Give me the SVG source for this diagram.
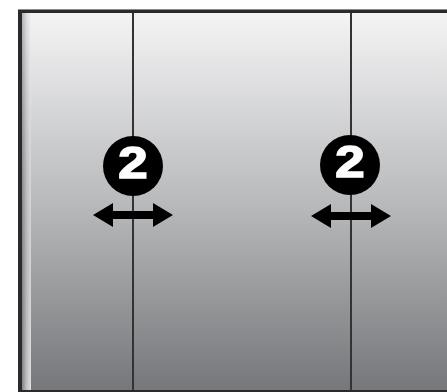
<svg xmlns="http://www.w3.org/2000/svg" width="447" height="392" viewBox="0 0 447 392">
<defs>
<linearGradient id="bg" x1="0" y1="0" x2="0" y2="1">
<stop offset="0" stop-color="#f4f4f5"/>
<stop offset="0.5" stop-color="#b9babc"/>
<stop offset="1" stop-color="#76777a"/>
</linearGradient>
<linearGradient id="strip" x1="0" y1="0" x2="1" y2="0">
<stop offset="0" stop-color="#8a8b8d"/>
<stop offset="0.5" stop-color="#c8c9cb"/>
<stop offset="1" stop-color="#ececed"/>
</linearGradient>
<linearGradient id="stripv" x1="0" y1="0" x2="0" y2="1">
<stop offset="0" stop-color="#ffffff" stop-opacity="0.35"/>
<stop offset="1" stop-color="#000000" stop-opacity="0.05"/>
</linearGradient>
<path id="dbl" d="M-40,0 L-20,-12 L-20,-4 L20,-4 L20,-12 L40,0 L20,12 L20,4 L-20,4 L-20,12 Z" fill="#000"/>
</defs>
<style>
.div{stroke:#333336;stroke-width:2;fill:none}
.num{font-family:"Liberation Sans",Arial,sans-serif;font-weight:bold;font-size:44px;fill:#fff;stroke:#fff;stroke-width:1.6;text-anchor:middle}
</style>
<g id="frame">
<rect x="18" y="10" width="429" height="382" fill="#2a2a2c"/>
<rect x="18" y="9" width="429" height="1" fill="#8a8a8a"/>
<rect x="22" y="13" width="425" height="377" fill="url(#bg)"/>
<rect x="22" y="13" width="9" height="377" fill="url(#strip)"/>
<rect x="22" y="13" width="9" height="377" fill="url(#stripv)"/>
</g>
<g id="connectors">
<line class="div" x1="133" y1="13" x2="133" y2="390"/>
<line class="div" x1="351" y1="13" x2="351" y2="390"/>
</g>
<g id="marker-left">
<circle cx="133" cy="166" r="30" fill="#000"/>
<text class="num" x="133" y="178" transform="translate(133 0) scale(1.2 1) translate(-133 0)">2</text>
<use href="#dbl" x="133" y="215"/>
</g>
<g id="marker-right">
<circle cx="350" cy="165" r="30" fill="#000"/>
<text class="num" x="350" y="177" transform="translate(350 0) scale(1.2 1) translate(-350 0)">2</text>
<use href="#dbl" x="351" y="216"/>
</g>
</svg>
